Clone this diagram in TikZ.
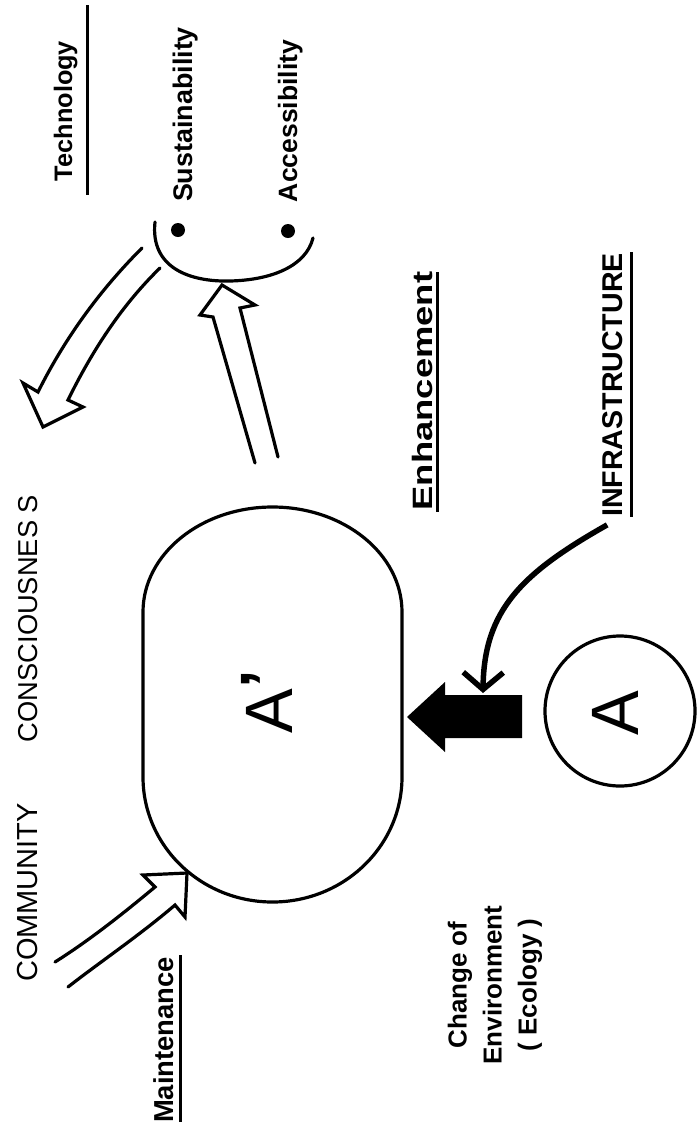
\documentclass[tikz,border=0pt]{standalone}
\usepackage{fontspec}
\usepackage{graphicx}
\setmainfont{Liberation Sans}
\usetikzlibrary{arrows.meta,calc}
\begin{document}
\begin{tikzpicture}[x=1pt,y=-1pt,
  lbl/.style={rotate=90,anchor=base,inner sep=0pt,outer sep=0pt},
  outline/.style={line width=3.2pt,line join=miter,line cap=round},
  uline/.style={line width=3pt},
  fs/.style={font=\fontsize{#1}{#1}\selectfont},
  fb/.style={font=\fontsize{#1}{#1}\bfseries\selectfont}]
\useasboundingbox[fill=white] (0,0) rectangle (700,1133);

% texts
\node[lbl,fb=25.3] (tech) at (72,111) {Technology};
\draw[uline] (87,5) -- (87,195);
\node[lbl,fb=26.9] (sust) at (192,114.5) {Sustainability};
\node[lbl,fb=26.5] (acc) at (297,121) {Accessibility};
\node[lbl,fs=27.3] (cons) at (37,618.5) {CONSCIOUSNES S};
\node[lbl,fs=29] (comm) at (37,892.5) {COMMUNITY};
\node[lbl,fb=27.4] (maint) at (173,1040) {Maintenance};
\draw[uline] (180,955) -- (180,1122);
\node[lbl,fb=28] (enh) at (432,391) {\scalebox{1.3}[1]{Enhancement}};
\draw[uline] (437,272) -- (437,512);
\node[lbl,fb=28.6] (infra) at (622,385) {INFRASTRUCTURE};
\draw[uline] (631,252) -- (631,517);
\node[rotate=90,inner sep=0pt,align=center,font=\fontsize{26}{35}\bfseries\selectfont] (env) at (495,985) {Change of\\Environment\\( Ecology )};

% smile with dots
\draw[outline] (155,222) .. controls (150,268) and (190,282) .. (230,281) .. controls (272,280) and (306,266) .. (313,238);
\fill (178,230) circle[radius=7pt];
\fill (288,231) circle[radius=7pt];

% stadium A'
\draw[outline] (143,612) .. controls (143,554) and (201,507) .. (272.5,507)
  .. controls (344,507) and (402,554) .. (402,612) -- (402,777)
  .. controls (402,846) and (344,902) .. (272.5,902)
  .. controls (201,902) and (143,846) .. (143,777) -- cycle;
\node[lbl,fs=67] (Ap) at (292,702) {A\raisebox{5pt}{\bfseries ’}};

% circle A
\node[draw,circle,line width=3.2pt,minimum size=150pt,inner sep=0pt] (circA) at (620,711) {};
\node[lbl,fs=67] (A) at (638,713.5) {A};

% hollow arrows
\draw[outline] (142,248) .. controls (98,292) and (64,340) .. (38,392) -- (23,383) -- (43,427) -- (83,407) -- (68,400) .. controls (94,347) and (124,303) .. (160,268);
\draw[outline] (255,463) -- (213,317) -- (200,315) -- (222,285) -- (255,305) -- (240,308) -- (278,457);
\draw[outline] (55,962) .. controls (90,940) and (125,912) .. (155,887) -- (143,875) -- (187,873) -- (185,917) -- (175,905) .. controls (140,935) and (100,962) .. (68,987);

% black arrow
\fill (407,717) -- (445,682) -- (445,695) -- (522,695) -- (522,738) -- (445,738) -- (445,752) -- cycle;
\coordinate (btop) at (483,693);

% curved connector
\draw[line width=5.5pt,-{Straight Barb[length=17pt,width=40pt]}] ($(infra.west)+(-5,8)$) .. controls (522,573) and (484,610) .. (btop);
\end{tikzpicture}
\end{document}
